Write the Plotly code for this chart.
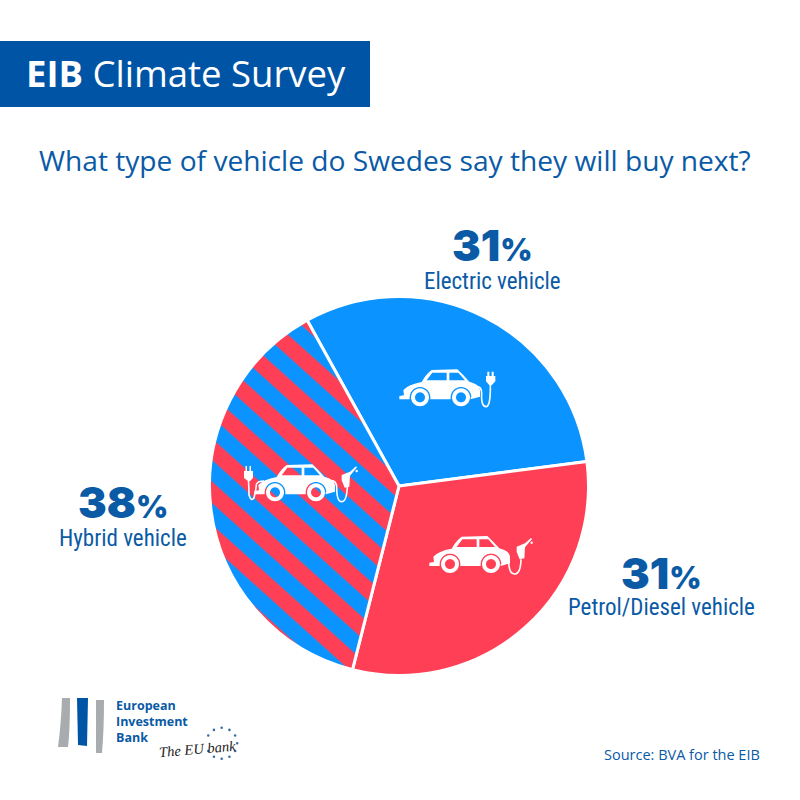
import numpy as np
import plotly.graph_objects as go

# ---- data ----
categories = ["Electric vehicle", "Petrol/Diesel vehicle", "Hybrid vehicle"]
stated_percent = [31, 31, 38]
title_bold = "EIB"
title_rest = "Climate Survey"
question = "What type of vehicle do Swedes say they will buy next?"
source = "Source: BVA for the EIB"
logo_lines = ["European", "Investment", "Bank"]
tagline = "The EU bank"

BLUE = "#0B94FF"
RED = "#FF3F55"
NAVY = "#0A5AA6"
BANNER = "#0054A5"
GREY = "#A9ACAE"
W, H = 800, 800

px = lambda x: x / W
py = lambda y: 1 - y / H

shapes = []
annotations = []


def path_str(segments):
    out = []
    for seg in segments:
        cmd = " ".join(
            (f"{c}" if isinstance(c, str) else f"{px(c[0]):.5f},{py(c[1]):.5f}") for c in seg
        )
        out.append(cmd)
    return " ".join(out)


def add_path(segments, fill="white", line=None, lw=0):
    shapes.append(dict(type="path", xref="paper", yref="paper", path=path_str(segments),
                       fillcolor=fill if fill else "rgba(0,0,0,0)",
                       line=dict(color=line or "rgba(0,0,0,0)", width=lw), layer="above"))


def poly(pts, close=True):
    segs = [("M", pts[0])] + [("L", p) for p in pts[1:]]
    if close:
        segs.append(("Z",))
    return segs


def circle(cx, cy, r, reverse=False, n=28):
    t = np.linspace(0, 2 * np.pi, n, endpoint=False)
    if reverse:
        t = t[::-1]
    return poly([(cx + r * np.cos(a), cy + r * np.sin(a)) for a in t])


def car(ox, oy, s=1 / 3):
    """Car icon; local units are those of the 3x crop of the electric icon."""
    T = lambda x, y: (ox + x * s, oy + y * s)
    outline = [("M", T(58, 138)), ("L", T(72, 136)), ("L", T(70, 120)),
               ("Q", T(85, 103), T(125, 96)), ("Q", T(138, 72), T(155, 60)),
               ("L", T(232, 58)), ("Q", T(250, 75), T(268, 95)),
               ("Q", T(298, 102), T(300, 120)), ("L", T(300, 140)), ("L", T(272, 148)),
               ("L", T(272, 142))]
    a = np.linspace(0, -np.pi, 14)
    outline += [("L", T(243 + 31 * np.cos(t), 142 + 31 * np.sin(t))) for t in a]
    outline += [("L", T(212, 148)), ("L", T(151, 148)), ("L", T(151, 142))]
    outline += [("L", T(120 + 31 * np.cos(t), 142 + 31 * np.sin(t))) for t in a]
    outline += [("L", T(89, 148)), ("L", T(58, 148)), ("Z",)]
    win1 = poly([T(140, 91), T(200, 91), T(200, 68), T(157, 68)])
    win2 = poly([T(208, 91), T(255, 91), T(235, 68), T(208, 68)])
    add_path(outline + win1 + win2)
    for wx in (120, 243):
        c = T(wx, 142)
        add_path(circle(c[0], c[1], 27 * s) + circle(c[0], c[1], 15 * s, reverse=True))


def plug(ox, oy, s=1 / 3):
    T = lambda x, y: (ox + x * s, oy + y * s)
    add_path(poly([T(322, 65), T(328, 65), T(328, 78), T(335, 78), T(335, 65), T(341, 65),
                   T(341, 78), T(346, 78), T(346, 94), T(335, 106), T(328, 106),
                   T(318, 94), T(318, 78), T(322, 78)]))


def nozzle(ox, oy, s=1 / 3):
    T = lambda x, y: (ox + x * s, oy + y * s)
    add_path(poly([T(320, 90), T(345, 80), T(363, 64), T(366, 67), T(350, 86), T(345, 92),
                   T(343, 125), T(329, 128), T(320, 106)]))
    c = T(365, 78)
    add_path(circle(c[0], c[1], 3 * s * 1.2))


def cable(ox, oy, pts, s=1 / 3, lw=1.6):
    T = lambda x, y: (ox + x * s, oy + y * s)
    pp = [T(*p) for p in pts]
    segs = [("M", pp[0])]
    for i in range(1, len(pp) - 1, 2):
        segs.append(("Q", pp[i], pp[i + 1]))
    add_path(segs, fill=None, line="white", lw=lw)


# Electric icon
car(380, 350)
plug(380, 350)
cable(380, 350, [(290, 110), (305, 110), (305, 130), (303, 170), (318, 170), (332, 170), (331, 105)])

# Petrol icon
car(410, 516.7)
nozzle(410, 516.7)
cable(410, 516.7, [(290, 112), (296, 112), (296, 130), (296, 172), (313, 172), (332, 172), (333, 128)])

# Hybrid icon
car(235, 445)
nozzle(235, 445)
cable(235, 445, [(290, 107), (303, 107), (305, 125), (305, 170), (320, 170), (335, 170), (337, 125)])
add_path(poly([(245.5, 466), (247, 466), (247, 471), (249.5, 471), (249.5, 466), (251, 466),
               (251, 471), (253, 471), (253, 478), (250, 481), (248, 481), (244, 478), (244, 471), (245.5, 471)]))
add_path([("M", (248.5, 481)), ("Q", (249, 490), (249, 495)),
          ("Q", (251, 502), (254, 498)), ("Q", (256, 490), (256.5, 484)),
          ("Q", (258, 481), (264, 481))], fill=None, line="white", lw=1.6)

# Banner
shapes.insert(0, dict(type="rect", xref="paper", yref="paper", x0=0, x1=px(370), y0=py(107), y1=py(41),
                      fillcolor=BANNER, line=dict(width=0), layer="below"))

# Logo bars
add_path([("M", (62, 698)), ("L", (70, 698)), ("Q", (70, 730), (68, 747)), ("L", (58, 747)),
          ("Q", (61, 725), (62, 698)), ("Z",)], fill=GREY)
add_path(poly([(77, 698), (88, 698), (87, 746), (78, 745)]), fill=BANNER)
add_path([("M", (96, 700)), ("L", (104, 700)), ("Q", (104, 730), (102, 753)), ("L", (96, 753)), ("Z",)], fill=GREY)

# Star ring
for ang in np.arange(0, 360, 30):
    if 150 < ang < 210:
        continue
    cx = 221.7 + 15.5 * np.cos(np.radians(ang))
    cy = 743.3 + 15.5 * np.sin(np.radians(ang))
    shapes.append(dict(type="circle", xref="paper", yref="paper", x0=px(cx - 1.3), x1=px(cx + 1.3),
                       y0=py(cy + 1.3), y1=py(cy - 1.3), fillcolor="#3B6EA8", line=dict(width=0), layer="above"))


def text(x, y, s, size, color=NAVY, family="Open Sans", anchor="center", weight=None, angle=0, style=None):
    f = dict(family=family, size=size, color=color)
    if weight:
        f["weight"] = weight
    if style:
        f["style"] = style
    annotations.append(dict(xref="paper", yref="paper", x=px(x), y=py(y), text=s, showarrow=False,
                            xanchor=anchor, yanchor="middle", font=f, textangle=angle))


text(24, 73, f"<b>{title_bold}</b> {title_rest}", 36.5, color="white", anchor="left")
text(395, 160, question, 28.15)
text(762, 754, source, 14.5, anchor="right")
for i, l in enumerate(logo_lines):
    text(114, 705 + i * 16, f"<b>{l}</b>", 12.5, anchor="left")
text(197, 749, tagline, 14.5, color="#222222", family="Liberation Serif", style="italic", angle=-5)

label_pos = {"Electric vehicle": (492, 245, 281), "Petrol/Diesel vehicle": (661, 573, 607), "Hybrid vehicle": (123, 502, 538)}
for c, v in zip(categories, stated_percent):
    x, y1, y2 = label_pos[c]
    text(x, y1, f'{v}<span style="font-size:31px">%</span>', 43, family="Inter", weight=900)
    text(x, y2, f'<span style="font-stretch:75%">{c}</span>', 23, family="Roboto")

fig = go.Figure(go.Pie(
    labels=categories,
    values=stated_percent,
    sort=False,
    direction="clockwise",
    rotation=331,
    textinfo="none",
    hoverinfo="label",
    showlegend=False,
    marker=dict(
        colors=[BLUE, RED, BLUE],
        line=dict(color="white", width=3),
        pattern=dict(shape=["", "", "\\"], fgcolor=RED, bgcolor=BLUE, size=32, solidity=0.5, fillmode="replace"),
    ),
    domain=dict(x=[px(399 - 189.5), px(399 + 189.5)], y=[py(486 + 189.5), py(486 - 189.5)]),
))
fig.update_layout(width=W, height=H, margin=dict(l=0, r=0, t=0, b=0), paper_bgcolor="white",
                  shapes=shapes, annotations=annotations)
fig.write_html("out.html", config=dict(displayModeBar=False),
               post_script="document.body.style.margin='0';"
                           "document.querySelectorAll('pattern').forEach(p=>p.setAttribute('patternTransform','rotate(-3)'));")
